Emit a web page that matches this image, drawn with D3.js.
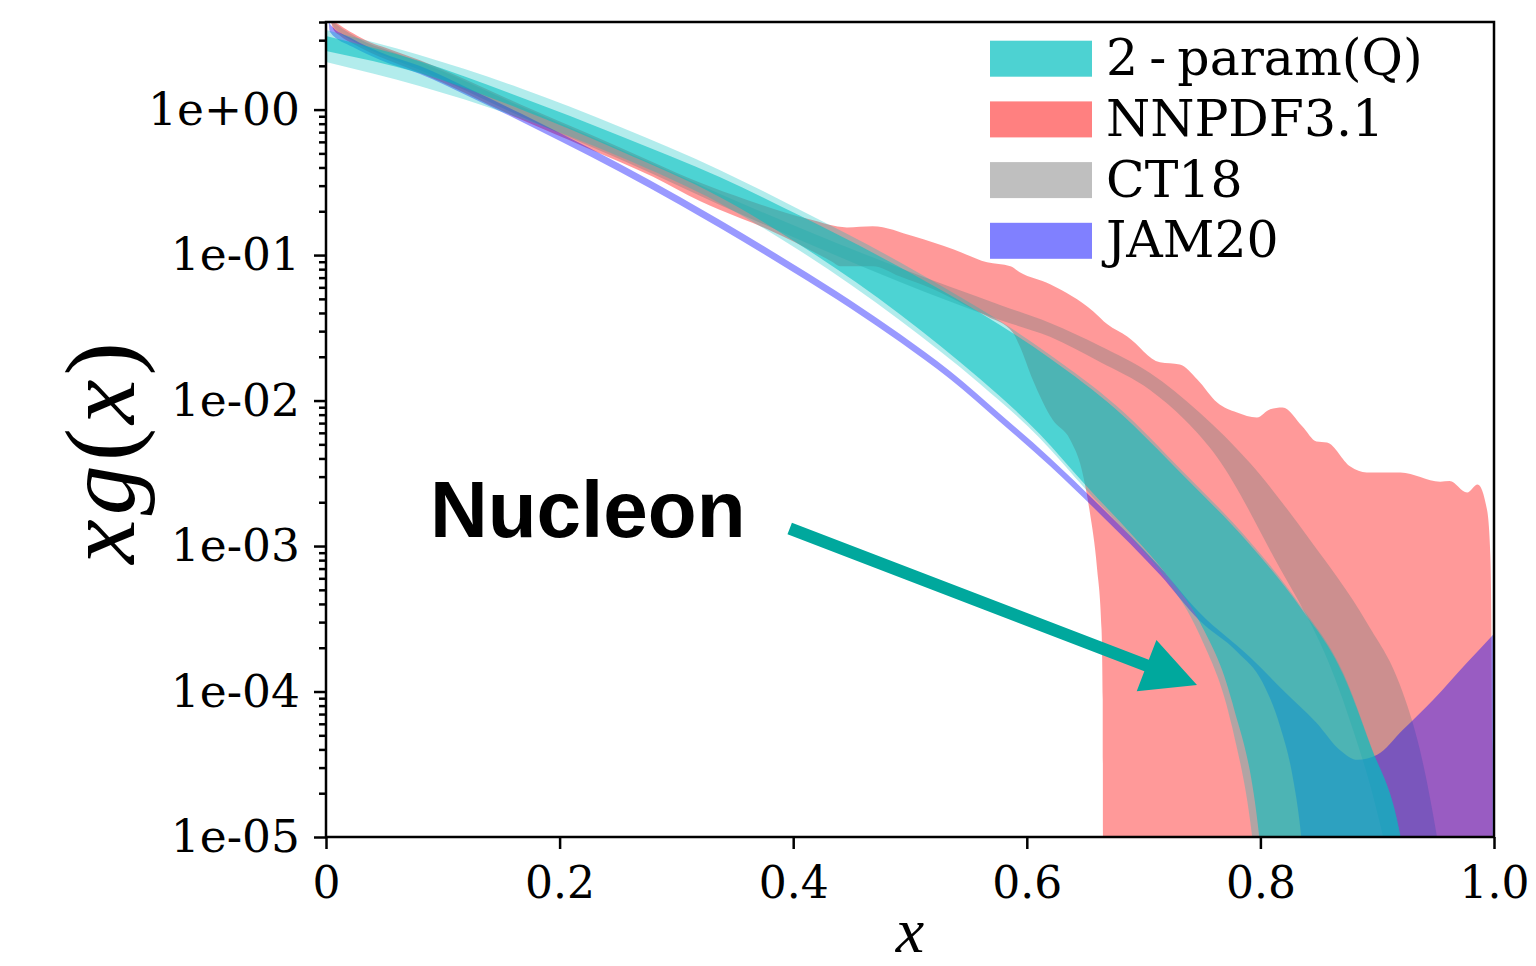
<!DOCTYPE html>
<html><head><meta charset="utf-8">
<script src="https://cdn.jsdelivr.net/npm/d3@7"></script>
<style>body{margin:0;background:#fff}svg{display:block}</style>
</head><body>
<svg id="chart" width="1536" height="966"></svg>
<script>
// ---------------- data ----------------
const xTicks = [0, 0.2, 0.4, 0.6, 0.8, 1.0];
const xTickLabels = ["0", "0.2", "0.4", "0.6", "0.8", "1.0"];
const yTicks = [1, 1e-1, 1e-2, 1e-3, 1e-4, 1e-5];
const yTickLabels = ["1e+00", "1e-01", "1e-02", "1e-03", "1e-04", "1e-05"];
const seriesNames = ["2 - param(Q)", "NNPDF3.1", "CT18", "JAM20"];

// NNPDF3.1 band [x, xg]
const nnpdfUpper = [[0.001,9.5],[0.006,4.2],[0.012,3.8],[0.0231,3.35],[0.0377,2.9],[0.0522,2.64],[0.0805,2.18],[0.1661,1.09],[0.2235,0.69],[0.28,0.435],[0.32,0.315],[0.36,0.24],[0.414,0.176],[0.446,0.155],[0.468,0.158],[0.503,0.1346],[0.537,0.1096],[0.566,0.0892],[0.586,0.0838],[0.594,0.0762],[0.620,0.0630],[0.657,0.0410],[0.669,0.0334],[0.686,0.0276],[0.714,0.0183],[0.731,0.0177],[0.746,0.01397],[0.763,9.7e-3],[0.780,8.28e-3],[0.797,7.65e-3],[0.808,8.69e-3],[0.819,8.96e-3],[0.836,6.63e-3],[0.848,5.23e-3],[0.857,5.15e-3],[0.877,3.52e-3],[0.891,3.2e-3],[0.920,3.2e-3],[0.954,2.77e-3],[0.962,2.8e-3],[0.977,2.33e-3],[0.986,2.65e-3],[0.994,1.78e-3],[0.997,8e-4],[0.9985,4e-5],[0.9995,1e-8]];
const nnpdfLower = [[0.001,7.0],[0.006,3.6],[0.012,3.22],[0.0231,2.84],[0.0377,2.47],[0.0522,2.2],[0.0805,1.79],[0.1661,0.86],[0.2235,0.545],[0.28,0.345],[0.32,0.235],[0.337,0.205],[0.378,0.1506],[0.434,0.0892],[0.440,0.0838],[0.468,0.0838],[0.491,0.0715],[0.520,0.0582],[0.549,0.0445],[0.566,0.0379],[0.588,0.0294],[0.594,0.0236],[0.605,0.01397],[0.622,7.4e-3],[0.637,5.4e-3],[0.647,3.36e-3],[0.654,1.70e-3],[0.660,7.2e-4],[0.664,2.66e-4],[0.665,8.8e-5],[0.6655,1e-8]];

// CT18 band
const ct18Upper = [[0.0017,4.69],[0.006,4.06],[0.012,3.70],[0.0231,3.26],[0.0377,2.82],[0.0522,2.57],[0.0805,2.12],[0.1661,1.059],[0.2235,0.669],[0.280,0.423],[0.3373,0.263],[0.4058,0.1535],[0.4914,0.0815],[0.5771,0.0454],[0.6199,0.0341],[0.6627,0.0237],[0.7055,0.01548],[0.7483,8.22e-3],[0.7911,3.72e-3],[0.8425,1.10e-3],[0.8913,2.96e-4],[0.9195,1.11e-4],[0.9366,3.97e-5],[0.9512,1.0e-5],[0.9666,1.43e-6],[0.99,1e-8]];
const ct18Lower = [[0.0017,4.26],[0.006,3.75],[0.012,3.36],[0.0231,2.96],[0.0377,2.57],[0.0522,2.30],[0.0805,1.87],[0.1661,0.904],[0.2235,0.571],[0.280,0.361],[0.3373,0.221],[0.4058,0.127],[0.4914,0.0653],[0.5771,0.0358],[0.6199,0.0274],[0.6627,0.0184],[0.7055,0.01183],[0.7354,7.36e-3],[0.7628,4.10e-3],[0.8082,9.40e-4],[0.8707,8.75e-5],[0.9050,1e-5],[0.9195,2.7e-6],[0.95,1e-8]];

// JAM20 band
const jamUpper = [[0.001,6.9],[0.0034,3.88],[0.023,3.06],[0.046,2.49],[0.0805,1.99],[0.1233,1.385],[0.1661,0.947],[0.2003,0.690],[0.2517,0.423],[0.3031,0.2508],[0.3373,0.1742],[0.3998,0.0868],[0.4486,0.0491],[0.4914,0.02865],[0.5342,0.01598],[0.5771,8.08e-3],[0.6199,4.03e-3],[0.6627,1.885e-3],[0.714,7.19e-4],[0.748,3.48e-4],[0.791,1.73e-4],[0.819,1.03e-4],[0.848,6.1e-5],[0.868,3.97e-5],[0.883,3.39e-5],[0.900,3.67e-5],[0.922,5.45e-5],[0.948,8.77e-5],[0.977,1.58e-4],[1.0,2.5e-4]];
const jamLower = [[0.001,6.1],[0.0034,3.42],[0.023,2.69],[0.046,2.20],[0.0805,1.756],[0.1233,1.221],[0.1661,0.835],[0.2003,0.608],[0.2517,0.373],[0.3031,0.2211],[0.3373,0.1536],[0.3998,0.0765],[0.4486,0.0433],[0.4914,0.02526],[0.5342,0.01408],[0.5771,7.13e-3],[0.6199,3.55e-3],[0.6627,1.662e-3],[0.714,6.34e-4],[0.748,3.07e-4],[0.780,1.88e-4],[0.802,1.15e-4],[0.817,5.7e-5],[0.827,2.76e-5],[0.835,1e-5],[0.842,2e-6],[0.86,1e-8],[1.0,1e-8]];

// 2-param(Q): outer (wide) and inner band
const paramOuterUpper = [[0,3.52],[0.08,2.37],[0.166,1.407],[0.252,0.759],[0.337,0.385],[0.406,0.204],[0.491,0.0897],[0.543,0.0516],[0.577,0.0352],[0.620,0.0206],[0.677,9.18e-3],[0.734,3.23e-3],[0.789,1.12e-3],[0.834,3.94e-4],[0.871,1.34e-4],[0.894,4.36e-5],[0.920,1.02e-5],[0.935,1.6e-6],[0.95,1e-8]];
const paramOuterLower = [[0,2.12],[0.08,1.452],[0.166,0.875],[0.252,0.472],[0.337,0.2275],[0.406,0.1067],[0.491,0.0358],[0.560,0.0130],[0.611,5.53e-3],[0.651,2.43e-3],[0.691,1.10e-3],[0.720,5.85e-4],[0.748,2.45e-4],[0.776,5.62e-5],[0.793,1e-5],[0.805,1e-6],[0.815,1e-8]];
const paramInnerUpper = [[0,3.21],[0.08,2.16],[0.166,1.22],[0.252,0.659],[0.337,0.344],[0.406,0.186],[0.491,0.0828],[0.543,0.0484],[0.577,0.0331],[0.620,0.01946],[0.677,8.61e-3],[0.734,3.05e-3],[0.789,1.067e-3],[0.834,3.81e-4],[0.871,1.30e-4],[0.894,4.30e-5],[0.920,1e-5],[0.935,1.5e-6],[0.95,1e-8]];
const paramInnerLower = [[0,2.53],[0.08,1.784],[0.166,1.01],[0.252,0.519],[0.337,0.2507],[0.406,0.1173],[0.491,0.0394],[0.560,0.01406],[0.611,5.90e-3],[0.651,2.59e-3],[0.691,1.17e-3],[0.720,6.32e-4],[0.748,3.01e-4],[0.776,8.36e-5],[0.799,1e-5],[0.81,1e-6],[0.82,1e-8]];

// annotation (data coordinates)
const arrowStart = [0.397, 1.32e-3];
const arrowTip = [0.7457, 1.11e-4];
const nucleonPos = [0.089, 1.16e-3];
const nucleonText = "Nucleon";

// ---------------- drawing ----------------
const svg = d3.select("#chart");
const L = 326, R = 1494, T = 22, B = 837;
const x = d3.scaleLinear().domain([0, 1]).range([L, R]);
const y = d3.scaleLog().domain([1e-5, 4]).range([B, T]);

svg.append("defs").append("clipPath").attr("id", "plotclip")
  .append("rect").attr("x", L).attr("y", T).attr("width", R - L).attr("height", B - T);

const gPlot = svg.append("g").attr("clip-path", "url(#plotclip)");
const line = d3.line().x(d => x(d[0])).y(d => y(d[1])).curve(d3.curveMonotoneX);
function bandPath(upper, lower) {
  const up = line(upper);
  const lo = line(lower.slice().reverse());
  return up + "L" + lo.slice(1) + "Z";
}
const bands = [
  {u: nnpdfUpper, l: nnpdfLower, c: "#ff0000", o: 0.4},
  {u: ct18Upper, l: ct18Lower, c: "#808080", o: 0.4},
  {u: jamUpper, l: jamLower, c: "#0000ff", o: 0.4},
  {u: paramOuterUpper, l: paramOuterLower, c: "#00bfbf", o: 0.3},
  {u: paramInnerUpper, l: paramInnerLower, c: "#00bfbf", o: 0.57}
];
gPlot.selectAll("path.band").data(bands).join("path")
  .attr("class", "band")
  .attr("d", d => bandPath(d.u, d.l))
  .attr("fill", d => d.c).attr("fill-opacity", d => d.o).attr("stroke", "none");

// arrow
(function () {
  const sx = x(arrowStart[0]), sy = y(arrowStart[1]);
  const tx = x(arrowTip[0]), ty = y(arrowTip[1]);
  const dx = tx - sx, dy = ty - sy, len = Math.hypot(dx, dy);
  const ux = dx / len, uy = dy / len, nx = -uy, ny = ux;
  const hl = 54, hw = 27.5, sw = 6.2;
  const bx = tx - ux * hl, by = ty - uy * hl;
  const pts = [
    [sx + nx * sw, sy + ny * sw], [bx + nx * sw, by + ny * sw], [bx + nx * hw, by + ny * hw],
    [tx, ty], [bx - nx * hw, by - ny * hw], [bx - nx * sw, by - ny * sw], [sx - nx * sw, sy - ny * sw]
  ];
  svg.append("path").attr("d", "M" + pts.map(p => p.join(",")).join("L") + "Z")
    .attr("fill", "#00a89d");
})();

// Nucleon label
svg.append("text").attr("x", x(nucleonPos[0])).attr("y", y(nucleonPos[1]))
  .attr("font-family", "'Liberation Sans', Arial, sans-serif").attr("font-weight", "bold")
  .attr("font-size", 80).attr("fill", "#000").text(nucleonText);

// axes
const tickFont = "'DejaVu Serif', serif";
const xAxis = d3.axisBottom(x).tickValues(xTicks).tickFormat((d, i) => xTickLabels[i])
  .tickSize(12).tickPadding(18).tickSizeOuter(0);
const gx = svg.append("g").attr("transform", `translate(0,${B})`).call(xAxis);
const yAxis = d3.axisLeft(y).tickValues(yTicks).tickFormat((d, i) => yTickLabels[i])
  .tickSize(12).tickPadding(14).tickSizeOuter(0);
const gy = svg.append("g").attr("transform", `translate(${L},0)`).call(yAxis);
const minorVals = [];
for (let k = -5; k <= 0; k++) for (let m = 2; m <= 9; m++) { const v = m * Math.pow(10, k); if (v <= 4.0001) minorVals.push(v); }
const gym = svg.append("g").attr("transform", `translate(${L},0)`)
  .call(d3.axisLeft(y).tickValues(minorVals).tickFormat("").tickSize(7).tickSizeOuter(0));
[gx, gy, gym].forEach(g => {
  g.select(".domain").remove();
  g.selectAll(".tick line").attr("stroke", "#000").attr("stroke-width", 2.5);
  g.selectAll(".tick text").attr("font-family", tickFont).attr("font-size", 44).attr("fill", "#000");
});
gy.selectAll(".tick text").attr("font-size", 45.5);

// frame
svg.append("rect").attr("x", L).attr("y", T).attr("width", R - L).attr("height", B - T)
  .attr("fill", "none").attr("stroke", "#000").attr("stroke-width", 2.5);

// axis labels
const yl = svg.append("text").attr("transform", "translate(134,451) rotate(-90)")
  .attr("text-anchor", "middle").attr("font-family", "'Liberation Serif', 'Times New Roman', serif")
  .attr("font-size", 100).attr("letter-spacing", 4).attr("fill", "#000");
yl.append("tspan").attr("font-style", "italic").text("xg");
yl.append("tspan").text("(");
yl.append("tspan").attr("font-style", "italic").text("x");
yl.append("tspan").text(")");
svg.append("text").attr("x", x(0.5)).attr("y", 952).attr("text-anchor", "middle")
  .attr("font-family", "'Liberation Serif', 'Times New Roman', serif").attr("font-style", "italic")
  .attr("font-size", 64).attr("fill", "#000").text("x");

// legend
const legendColors = ["rgb(77,210,210)", "rgb(255,128,128)", "rgb(191,191,191)", "rgb(128,128,255)"];
const lg = svg.append("g");
seriesNames.forEach((name, i) => {
  const cy = 58.7 + i * 60.7;
  lg.append("rect").attr("x", 990).attr("y", cy - 18).attr("width", 102).attr("height", 36)
    .attr("fill", legendColors[i]);
  lg.append("text").attr("x", 1106).attr("y", cy + 16.5)
    .attr("font-family", tickFont).attr("font-size", 50.5).attr("word-spacing", -5)
    .attr("fill", "#000").text(name);
});
</script>
</body></html>
